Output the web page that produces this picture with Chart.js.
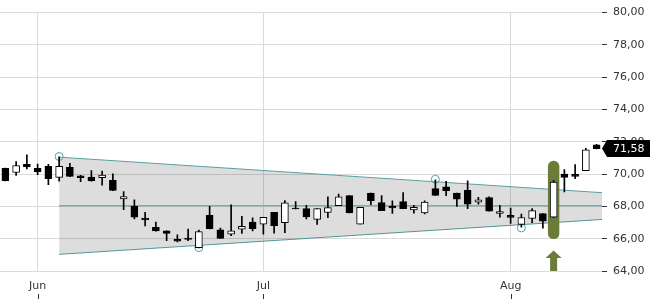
<!DOCTYPE html>
<html>
<head>
<meta charset="utf-8">
<title>Kursverlauf</title>
<script src="https://cdn.jsdelivr.net/npm/chart.js@4.4.1/dist/chart.umd.min.js"></script>
<style>
  html, body { margin: 0; padding: 0; background: #fff; }
  canvas { display: block; }
</style>
</head>
<body>
<canvas id="priceChart" width="650" height="300"></canvas>
<script>
// trading days shown on the chart
const dates = [
  '27.05.', '28.05.', '29.05.',
  '02.06.', '03.06.', '04.06.', '05.06.', '08.06.', '09.06.', '10.06.', '11.06.', '12.06.',
  '15.06.', '16.06.', '17.06.', '18.06.', '19.06.', '22.06.', '23.06.', '24.06.', '25.06.', '26.06.',
  '29.06.', '30.06.',
  '01.07.', '02.07.', '03.07.', '06.07.', '07.07.', '08.07.', '09.07.', '10.07.', '13.07.', '14.07.',
  '15.07.', '16.07.', '17.07.', '20.07.', '21.07.', '22.07.', '23.07.', '24.07.', '27.07.', '28.07.',
  '29.07.', '30.07.', '31.07.',
  '03.08.', '04.08.', '05.08.', '06.08.', '07.08.', '10.08.', '11.08.', '12.08.', '13.08.'
];

const opens = [
  70.36, 70.10, 70.60, 70.36, 70.48, 69.80, 70.42, 69.90, 69.82, 69.78,
  69.62, 68.47, 68.00, 67.27, 66.70, 66.48, 65.96, 66.04, 65.44, 67.45,
  66.55, 66.28, 66.59, 67.03, 66.90, 67.64, 67.00, 67.90, 67.86, 67.20,
  67.62, 68.04, 68.67, 66.90, 68.83, 68.24, 68.00, 68.30, 67.78, 67.60,
  69.10, 69.21, 68.83, 69.00, 68.26, 68.55, 67.56, 67.44, 66.89, 67.25,
  67.56, 67.33, 70.00, 69.98, 70.22, 71.82
];
const highs = [
  70.38, 70.77, 71.19, 70.62, 70.60, 71.07, 70.67, 69.92, 70.22, 70.18,
  70.02, 68.91, 68.40, 67.64, 67.03, 66.49, 66.24, 66.59, 66.53, 68.00,
  66.65, 68.10, 67.39, 67.29, 67.33, 67.64, 68.36, 68.30, 68.06, 67.86,
  68.60, 68.77, 68.67, 67.94, 68.83, 68.67, 68.35, 68.85, 68.06, 68.35,
  69.65, 69.56, 68.83, 69.58, 68.56, 68.60, 68.06, 67.90, 67.53, 67.86,
  67.56, 69.60, 70.28, 70.59, 71.60, 71.84
];
const lows = [
  69.58, 69.92, 70.32, 69.96, 69.35, 69.56, 69.84, 69.53, 69.56, 69.32,
  68.97, 67.80, 67.23, 66.79, 66.47, 65.88, 65.80, 65.88, 65.43, 66.61,
  66.01, 66.18, 66.32, 66.48, 66.28, 66.35, 66.38, 67.84, 67.23, 66.89,
  67.30, 68.04, 67.59, 66.90, 68.10, 67.74, 67.56, 67.86, 67.58, 67.53,
  68.68, 68.67, 68.00, 67.86, 68.14, 67.70, 67.33, 66.95, 66.71, 66.99,
  66.65, 67.30, 68.90, 69.72, 70.22, 71.56
];
const closes = [
  69.60, 70.53, 70.44, 70.14, 69.72, 70.48, 69.86, 69.78, 69.58, 69.94,
  68.99, 68.61, 67.33, 67.17, 66.48, 66.32, 65.84, 65.96, 66.44, 66.62,
  66.02, 66.48, 66.77, 66.62, 67.33, 66.80, 68.22, 67.84, 67.35, 67.86,
  67.92, 68.59, 67.59, 67.94, 68.35, 67.74, 67.90, 67.86, 67.94, 68.27,
  68.68, 68.97, 68.44, 68.14, 68.41, 67.70, 67.68, 67.32, 67.31, 67.74,
  67.09, 69.50, 69.80, 69.86, 71.50, 71.58
];

// x axis month labels (index of first trading day)
const monthIndex = [3, 24, 47];
const monthLabels = ['Jun', 'Jul', 'Aug'];

// y axis ticks
const yTicks = [64, 66, 68, 70, 72, 74, 76, 78, 80];

// triangle pattern: start / end index and prices of its lines
const patternX = [5, 55.5];
const upperLine = [71.05, 68.85];
const lowerLine = [65.03, 67.19];
const middleLine = [68.04, 68.04];
const touchIndex = [5, 18, 40, 48];
const touchPrice = [71.09, 65.45, 69.68, 66.67];

// breakout signal
const signalIndex = 51;
const signalRange = [66.0, 70.8];
const arrowRange = [64.0, 64.8, 65.27];

const lastPrice = closes[closes.length - 1];

document.addEventListener('DOMContentLoaded', function () {
    const ctx = document.getElementById('priceChart').getContext('2d');

    const teal = '#5b9ea0';
    const olive = '#6b7c3a';
    const gridColor = '#dadada';
    const textColor = '#333';

    Chart.defaults.font.family = "'DejaVu Sans', sans-serif";
    Chart.defaults.font.size = 11;

    const fmt = v => v.toFixed(2).replace('.', ',');
    const line = (ys) => patternX.map((x, i) => ({ x: x, y: ys[i] }));

    const bodies = opens.map((o, i) => ({ x: i, y: [o, closes[i]] }));
    const wicks = lows.map((l, i) => ({ x: i, y: [l, highs[i]] }));
    const bodyColors = opens.map((o, i) => closes[i] >= o ? '#ffffff' : '#000000');

    const barBase = { grouped: false, barPercentage: 1, categoryPercentage: 1 };

    const overlay = {
        id: 'overlay',
        afterDraw(chart) {
            const c = chart.ctx;
            const xs = chart.scales.x;
            const ys = chart.scales.y;
            const area = chart.chartArea;

            // small tick marks under month labels
            c.save();
            c.strokeStyle = textColor;
            c.lineWidth = 1;
            monthIndex.forEach(i => {
                const px = Math.round(xs.getPixelForValue(i)) + 0.5;
                c.beginPath();
                c.moveTo(px, 294);
                c.lineTo(px, 299);
                c.stroke();
            });

            // arrow under the signal candle
            const ax = xs.getPixelForValue(signalIndex);
            const yBottom = ys.getPixelForValue(arrowRange[0]);
            const yHead = ys.getPixelForValue(arrowRange[1]);
            const yTip = ys.getPixelForValue(arrowRange[2]);
            c.fillStyle = olive;
            c.beginPath();
            c.moveTo(ax, yTip);
            c.lineTo(ax + 8, yHead);
            c.lineTo(ax + 3.5, yHead);
            c.lineTo(ax + 3.5, yBottom);
            c.lineTo(ax - 3.5, yBottom);
            c.lineTo(ax - 3.5, yHead);
            c.lineTo(ax - 8, yHead);
            c.closePath();
            c.fill();

            // last price marker on the axis
            const py = ys.getPixelForValue(lastPrice);
            const left = area.right;
            c.fillStyle = '#000';
            c.beginPath();
            c.moveTo(left, py);
            c.lineTo(left + 5, py - 8.5);
            c.lineTo(chart.width, py - 8.5);
            c.lineTo(chart.width, py + 8.5);
            c.lineTo(left + 5, py + 8.5);
            c.closePath();
            c.fill();
            c.fillStyle = '#fff';
            c.font = "11px 'DejaVu Sans', sans-serif";
            c.textBaseline = 'middle';
            c.textAlign = 'left';
            c.fillText(fmt(lastPrice), left + 11, py + 0.5);
            c.restore();
        }
    };

    new Chart(ctx, {
        type: 'bar',
        data: {
            datasets: [
                Object.assign({
                    label: 'Körper',
                    data: bodies,
                    backgroundColor: bodyColors,
                    borderColor: '#000',
                    borderWidth: 1,
                    borderSkipped: false,
                    maxBarThickness: 7,
                    order: 0
                }, barBase),
                Object.assign({
                    label: 'Docht',
                    data: wicks,
                    backgroundColor: '#000',
                    borderWidth: 0,
                    maxBarThickness: 1,
                    order: 1
                }, barBase),
                Object.assign({
                    label: 'Signal',
                    data: [{ x: signalIndex, y: signalRange }],
                    backgroundColor: olive,
                    borderWidth: 0,
                    borderRadius: 6,
                    borderSkipped: false,
                    maxBarThickness: 11,
                    order: 2
                }, barBase),
                {
                    type: 'line',
                    label: 'Berührungen',
                    data: touchIndex.map((x, i) => ({ x: x, y: touchPrice[i] })),
                    showLine: false,
                    pointRadius: 4,
                    pointBorderWidth: 1,
                    pointBorderColor: teal,
                    pointBackgroundColor: 'rgba(255,255,255,0)',
                    order: 3
                },
                {
                    type: 'line',
                    label: 'Obere Linie',
                    data: line(upperLine),
                    borderColor: teal,
                    borderWidth: 1,
                    pointRadius: 0,
                    fill: 5,
                    backgroundColor: 'rgba(0,0,0,0.135)',
                    order: 5
                },
                {
                    type: 'line',
                    label: 'Untere Linie',
                    data: line(lowerLine),
                    borderColor: teal,
                    borderWidth: 1,
                    pointRadius: 0,
                    fill: false,
                    order: 5
                },
                {
                    type: 'line',
                    label: 'Mittellinie',
                    data: line(middleLine),
                    borderColor: teal,
                    borderWidth: 1,
                    pointRadius: 0,
                    fill: false,
                    order: 4
                }
            ]
        },
        options: {
            responsive: false,
            animation: false,
            layout: { autoPadding: false, padding: { top: 7, left: 0, right: 0, bottom: 0 } },
            plugins: {
                legend: { display: false },
                tooltip: { enabled: false }
            },
            scales: {
                x: {
                    type: 'linear',
                    min: -0.5,
                    max: 55.5,
                    offset: false,
                    border: { display: false },
                    grid: { color: gridColor, drawTicks: false, tickLength: 0, offset: false },
                    ticks: {
                        autoSkip: false,
                        maxRotation: 0,
                        padding: 9,
                        color: textColor,
                        callback: (v, i) => monthLabels[i]
                    },
                    afterBuildTicks: s => { s.ticks = monthIndex.map(v => ({ value: v })); },
                    afterFit: s => {
                        s.height = 29;
                        s.paddingLeft = 0;
                        s.paddingRight = 0;
                    }
                },
                y: {
                    position: 'right',
                    min: yTicks[0],
                    max: yTicks[yTicks.length - 1],
                    beginAtZero: false,
                    border: { display: false },
                    grid: { color: gridColor, tickColor: textColor, tickLength: 5 },
                    ticks: {
                        padding: 6,
                        color: textColor,
                        callback: v => fmt(v)
                    },
                    afterBuildTicks: s => { s.ticks = yTicks.map(v => ({ value: v })); },
                    afterFit: s => { s.width = 48; }
                }
            }
        },
        plugins: [overlay]
    });
});
</script>
</body>
</html>
